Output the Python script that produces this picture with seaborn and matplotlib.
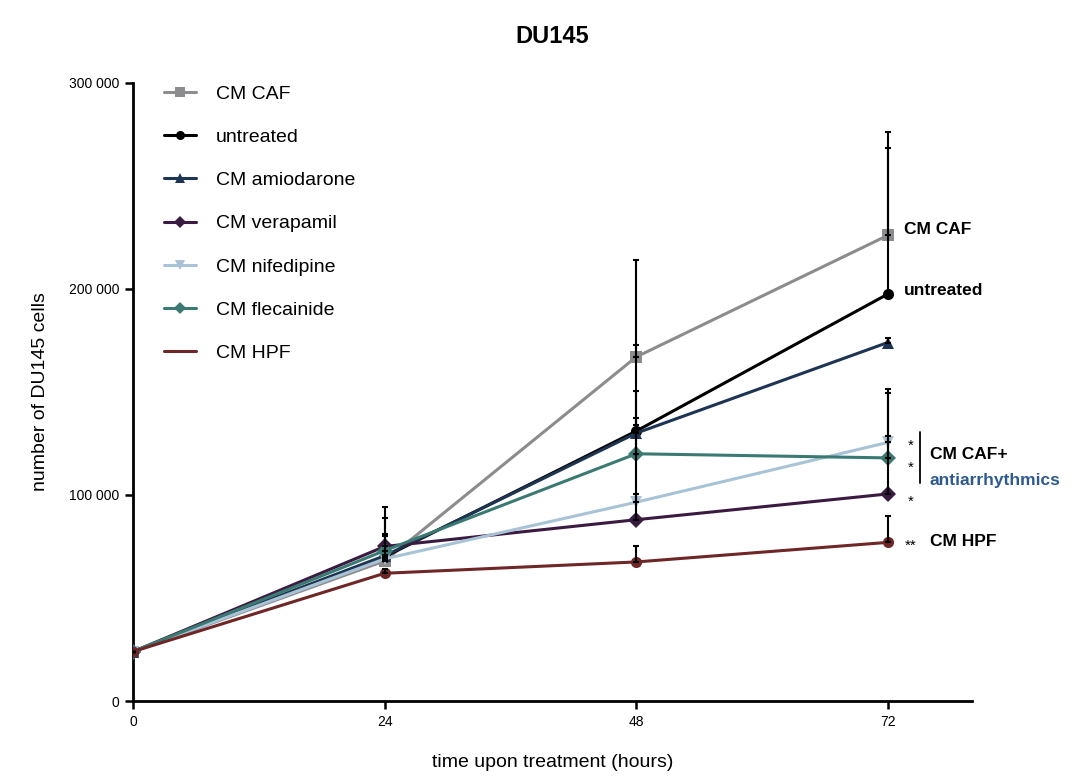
import numpy as np
import pandas as pd
import matplotlib
matplotlib.use('Agg')
import matplotlib.pyplot as plt
import seaborn as sns
from matplotlib.ticker import FuncFormatter

# data
hours = [0, 24, 48, 72]
groups = ['CM CAF', 'untreated', 'CM amiodarone', 'CM verapamil',
          'CM nifedipine', 'CM flecainide', 'CM HPF']
cm_caf = [24000, 68000, 167000, 226000]
untreated = [24000, 70000, 131000, 197500]
cm_amiodarone = [24000, 70500, 130000, 174000]
cm_verapamil = [24000, 75000, 88000, 100500]
cm_nifedipine = [24000, 69000, 96500, 125500]
cm_flecainide = [24000, 73000, 120000, 118000]
cm_hpf = [24000, 62000, 67500, 77000]

# upper error (SD) per time point
err_caf = [0, 2000, 47000, 50000]
err_untreated = [0, 19000, 42000, 71000]
err_amiodarone = [0, 10500, 20500, 2000]
err_verapamil = [0, 19000, 12500, 49000]
err_nifedipine = [0, 2000, 37500, 3000]
err_flecainide = [0, 7000, 17500, 33500]
err_hpf = [0, 2000, 7700, 13000]

values = [cm_caf, untreated, cm_amiodarone, cm_verapamil, cm_nifedipine, cm_flecainide, cm_hpf]
errors = [err_caf, err_untreated, err_amiodarone, err_verapamil, err_nifedipine, err_flecainide, err_hpf]

colors = ['#8c8c8e', '#000000', '#1d3452', '#3b1a42', '#a9c3d6', '#3a7a72', '#6e2626']
markers = ['s', 'o', '^', 'D', 'v', 'D', 'o']

df = pd.DataFrame({
    'time': hours * len(groups),
    'cells': sum(values, []),
    'group': [g for g in groups for _ in hours],
})

sns.set_style('ticks')
plt.rcParams['font.family'] = ['Liberation Sans', 'DejaVu Sans']
plt.rcParams.update({'text.color': 'black', 'axes.labelcolor': 'black',
                     'xtick.color': 'black', 'ytick.color': 'black'})

fig = plt.figure(figsize=(10.82, 7.76), dpi=100)
ax = fig.add_axes([0.123, 0.0966, 0.775, 0.7966])

sns.lineplot(data=df, x='time', y='cells', hue='group', style='group',
             hue_order=groups, style_order=groups, palette=colors,
             markers=dict(zip(groups, markers)), dashes=False,
             markersize=8, markeredgewidth=0, linewidth=2.2, ax=ax, zorder=3)

# upper-only error bars
for vals, errs in zip(values, errors):
    ax.errorbar(hours, vals, yerr=[np.zeros(len(errs)), errs], fmt='none',
                ecolor='black', elinewidth=1.5, capsize=2.5, capthick=1.5, zorder=4)

ax.set_xlim(0, 80)
ax.set_ylim(0, 300000)
ax.set_xticks(hours)
ax.set_yticks([0, 100000, 200000, 300000])
ax.yaxis.set_major_formatter(FuncFormatter(lambda v, p: f'{int(v):,}'.replace(',', ' ')))
ax.tick_params(axis='both', labelsize=10, width=1.8, length=6, direction='out', pad=4)
sns.despine(ax=ax)
for s in ['left', 'bottom']:
    ax.spines[s].set_linewidth(2)
    ax.spines[s].set_color('black')

ax.set_xlabel('time upon treatment (hours)', fontsize=14, labelpad=18)
ax.set_ylabel('number of DU145 cells', fontsize=14, labelpad=14)
ax.set_title('DU145', fontsize=17, fontweight='bold', pad=29, color='black')

leg = ax.legend(loc='upper left', bbox_to_anchor=(0.016, 1.025), frameon=False,
                fontsize=14, labelspacing=1.32, handlelength=1.65, handletextpad=1.0)
leg.legend_handles[-1].set_marker('')
for h in leg.legend_handles[:-1]:
    h.set_markersize(6.5)
for t in leg.get_texts():
    t.set_color('black')

# right-hand annotations
kw = dict(fontsize=12.5, fontweight='bold', clip_on=False, va='center', color='black')
ax.text(73.5, 229000, 'CM CAF', **kw)
ax.text(73.5, 199000, 'untreated', **kw)
for yv in [124000, 113000, 96500]:
    ax.text(73.9, yv, '*', fontsize=11, clip_on=False, va='center')
ax.plot([75.1, 75.1], [106000, 130500], color='black', lw=1.3, clip_on=False)
ax.text(76.0, 119500, 'CM CAF+', **kw)
kw['color'] = '#2f5a8f'
ax.text(76.0, 107000, 'antiarrhythmics', **kw)
ax.text(73.6, 75500, '**', fontsize=11, clip_on=False, va='center')
kw['color'] = 'black'
ax.text(76.0, 77500, 'CM HPF', **kw)

fig.savefig('out.png', dpi=100)
